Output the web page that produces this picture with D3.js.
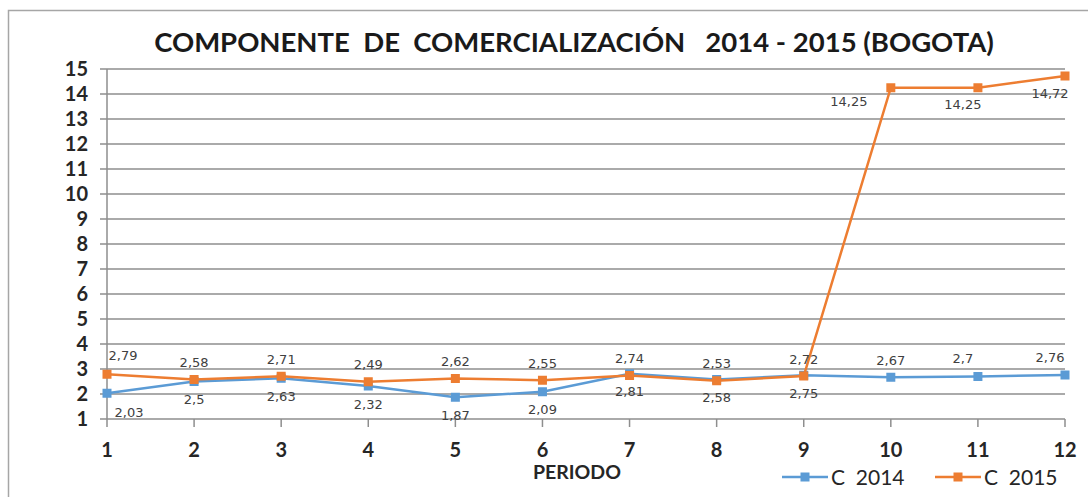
<!DOCTYPE html>
<html><head><meta charset="utf-8">
<script src="https://cdn.jsdelivr.net/npm/d3@7"></script>
<style>body{margin:0;background:#fff}svg{display:block}</style>
</head><body>
<svg id="c" width="1088" height="497"></svg>
<script>
const periods = [1,2,3,4,5,6,7,8,9,10,11,12];
const c2014 = [2.03,2.5,2.63,2.32,1.87,2.09,2.81,2.58,2.75,2.67,2.7,2.76];
const c2015 = [2.79,2.58,2.71,2.49,2.62,2.55,2.74,2.53,2.72,14.25,14.25,14.72];
const pos2014 = ['SE','S','S','S','S','S','S','S','S','N','NW','NW'];
const pos2015 = ['NE','N','N','N','N','N','N','N','N','SWW','SW','SW'];
const yTicks = [1,2,3,4,5,6,7,8,9,10,11,12,13,14,15];
const seriesNames = ['C  2014','C  2015'];
const colors = ['#5b9bd5','#ed7d31'];

const placement = {
  N:[0,-17], S:[0,18], NE:[16,-19], SE:[22,19], NW:[-15,-18], SW:[-15,17], SWW:[-42,14]
};

const svg = d3.select('#c');
svg.append('rect').attr('x',8.5).attr('y',10.5).attr('width',1100).attr('height',520)
  .attr('fill','none').attr('stroke','#a6a6a6').attr('stroke-width',1.5);

const x = d3.scaleLinear().domain([1,12]).range([107,1065]);
const y = d3.scaleLinear().domain([1,15]).range([419,69]);

svg.append('g').selectAll('line').data(yTicks).join('line')
  .attr('x1',100).attr('x2',1065).attr('y1',d=>y(d)).attr('y2',d=>y(d))
  .attr('stroke','#8e8e8e').attr('stroke-width',1.5);
svg.append('line').attr('x1',107).attr('x2',107).attr('y1',y(15)).attr('y2',y(1))
  .attr('stroke','#8e8e8e').attr('stroke-width',1.5);
svg.append('g').selectAll('line').data(periods).join('line')
  .attr('x1',d=>x(d)).attr('x2',d=>x(d)).attr('y1',y(1)).attr('y2',y(1)+8)
  .attr('stroke','#8e8e8e').attr('stroke-width',1.5);

svg.append('g').selectAll('text').data(yTicks).join('text')
  .attr('x',88).attr('y',d=>y(d)).attr('dy','0.36em').attr('text-anchor','end')
  .attr('font-family','Lato, sans-serif').attr('font-weight','bold').attr('font-size',20)
  .attr('fill','#262626').text(d=>d);
svg.append('g').selectAll('text').data(periods).join('text')
  .attr('x',d=>x(d)).attr('y',450).attr('dy','0.36em').attr('text-anchor','middle')
  .attr('font-family','Lato, sans-serif').attr('font-weight','bold').attr('font-size',20)
  .attr('fill','#262626').text(d=>d);
svg.append('text').attr('x',577).attr('y',472).attr('dy','0.36em').attr('text-anchor','middle')
  .attr('font-family','Lato, sans-serif').attr('font-weight','bold').attr('font-size',19.5)
  .attr('fill','#262626').text('PERIODO');

svg.append('text').attr('x',574).attr('y',42).attr('dy','0.36em').attr('text-anchor','middle')
  .attr('font-family','Lato, sans-serif').attr('font-weight','bold').attr('font-size',27.5)
  .attr('fill','#1a1a1a').attr('xml:space','preserve')
  .text('COMPONENTE  DE  COMERCIALIZACIÓN   2014 - 2015 (BOGOTA)');

const line = d3.line().x((d,i)=>x(periods[i])).y(d=>y(d));
const all = [c2014,c2015];
const positions = [pos2014,pos2015];
all.forEach((s,k)=>{
  svg.append('path').datum(s).attr('d',line).attr('fill','none')
    .attr('stroke',colors[k]).attr('stroke-width',2.5);
  svg.append('g').selectAll('rect').data(s).join('rect')
    .attr('x',(d,i)=>x(periods[i])-4.5).attr('y',d=>y(d)-4.5)
    .attr('width',9).attr('height',9).attr('fill',colors[k]);
});
all.forEach((s,k)=>{
  svg.append('g').selectAll('text').data(s).join('text')
    .attr('x',(d,i)=>x(periods[i])+placement[positions[k][i]][0])
    .attr('y',(d,i)=>y(d)+placement[positions[k][i]][1])
    .attr('dy','0.36em').attr('text-anchor','middle')
    .attr('font-family','"DejaVu Sans", sans-serif').attr('font-size',13)
    .attr('fill','#404040').text(d=>String(d).replace('.',','));
});

const lx = [782,935];
seriesNames.forEach((n,k)=>{
  const g = svg.append('g');
  g.append('line').attr('x1',lx[k]).attr('x2',lx[k]+46).attr('y1',477).attr('y2',477)
    .attr('stroke',colors[k]).attr('stroke-width',2.5);
  g.append('rect').attr('x',lx[k]+23-4.5).attr('y',477-4.5).attr('width',9).attr('height',9).attr('fill',colors[k]);
  g.append('text').attr('x',lx[k]+49).attr('y',477).attr('dy','0.36em')
    .attr('font-family','Lato, sans-serif').attr('font-size',21).attr('fill','#262626')
    .attr('xml:space','preserve').text(n);
});
</script>
</body></html>
